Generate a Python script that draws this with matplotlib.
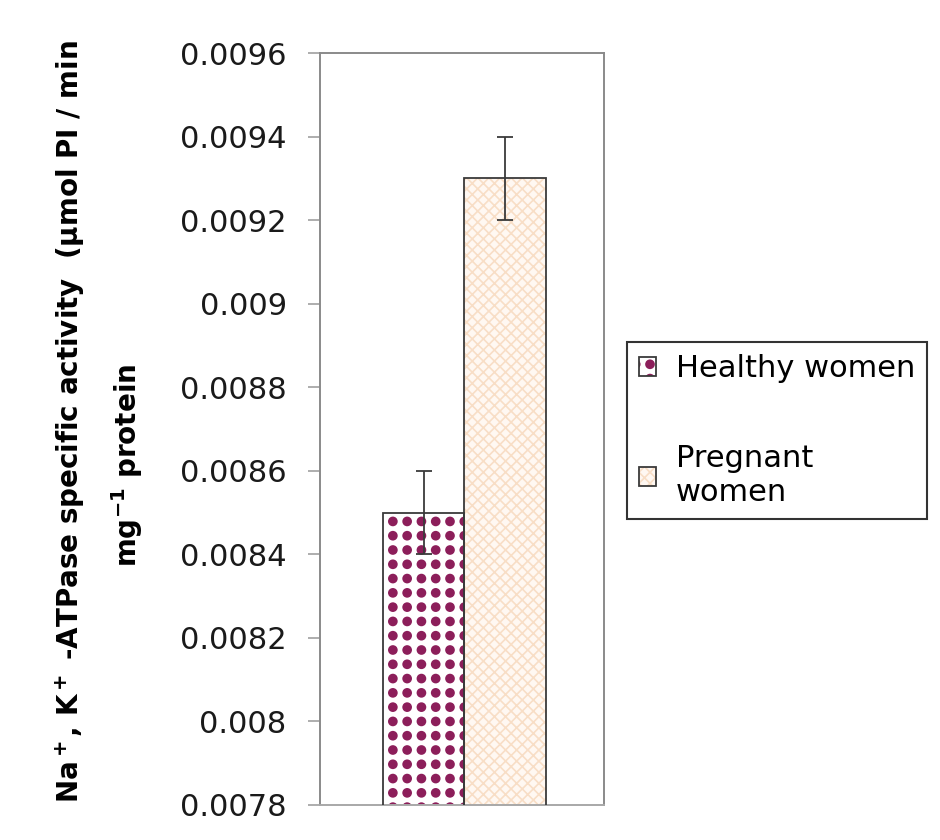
import numpy as np
import matplotlib
matplotlib.use("Agg")
import matplotlib.pyplot as plt
from matplotlib import hatch as mhatch
from matplotlib.path import Path

# data
groups = ["Healthy women", "Pregnant\nwomen"]
values = [0.0085, 0.0093]
errors = [0.0001, 0.0001]
yticks = [0.0078, 0.0080, 0.0082, 0.0084, 0.0086, 0.0088, 0.0090, 0.0092, 0.0094, 0.0096]
ytick_labels = ["0.0078", "0.008", "0.0082", "0.0084", "0.0086", "0.0088",
                "0.009", "0.0092", "0.0094", "0.0096"]


class GridDots(mhatch.HatchPatternBase):
    # square grid of filled dots (Excel-like pattern), used for '*'
    def __init__(self, hatch, density):
        self.n = hatch.count('*') * 7
        circ = Path.unit_circle()
        self.cv = circ.vertices
        self.cc = circ.codes
        self.num_vertices = self.n * self.n * len(self.cv)

    def set_vertices_and_codes(self, vertices, codes):
        k = len(self.cv)
        r = 0.04
        cur = 0
        for i in range(self.n):
            for j in range(self.n):
                c = np.array([(i + 0.5) / self.n, (j + 0.5) / self.n])
                vertices[cur:cur + k] = self.cv * r + c
                codes[cur:cur + k] = self.cc
                cur += k


mhatch._hatch_types = [t for t in mhatch._hatch_types if t is not mhatch.Stars] + [GridDots]

plt.rcParams['font.family'] = ['DejaVu Sans']
plt.rcParams['mathtext.fontset'] = 'dejavusans'
plt.rcParams['mathtext.default'] = 'bf'
plt.rcParams['hatch.linewidth'] = 1.2

purple = '#8C1E5A'
peach = '#F8DEC6'
dark = '#3a3a3a'
gray = '#8a8a8a'

fig = plt.figure(figsize=(9.4, 8.4), dpi=100)
ax = fig.add_axes([0.3404, 0.04167, 0.3022, 0.8952])

x = np.arange(len(groups))
faces = ['white', '#FFF8F2']
hatches = ['*', 'xxx']
hcols = [purple, peach]

fills = ax.bar(x, values, width=1.0, color=faces, edgecolor=hcols, linewidth=0, zorder=2)
for b, h in zip(fills, hatches):
    b.set_hatch(h)
outlines = ax.bar(x, values, width=1.0, fill=False, edgecolor=dark, linewidth=1.3, zorder=3)
ax.errorbar(x, values, yerr=errors, fmt='none', ecolor=dark, elinewidth=1.3,
            capsize=5.5, capthick=1.3, zorder=4)

ax.set_xlim(-1.28, 2.22)
ax.set_ylim(yticks[0], yticks[-1])
ax.set_yticks(yticks)
ax.set_yticklabels(ytick_labels)
ax.set_xticks([])
ax.tick_params(axis='y', direction='out', length=9, width=1.2, color='#a0a0a0',
               labelsize=22, pad=15, labelcolor='#1a1a1a')
for s in ['left', 'top', 'right']:
    ax.spines[s].set_color(gray)
    ax.spines[s].set_linewidth(1.4)
ax.spines['bottom'].set_color('#a8a8a8')
ax.spines['bottom'].set_linewidth(1.4)

fig.text(70 / 940, 1 - 422 / 840,
         'Na$^+$, K$^+$ -ATPase specific activity  (μmol PI / min',
         rotation=90, ha='center', va='center', fontsize=20, fontweight='bold')
fig.text(127 / 940, 1 - 465 / 840, 'mg$^{-1}$ protein',
         rotation=90, ha='center', va='center', fontsize=20, fontweight='bold')

handles = [(fills[i], outlines[i]) for i in range(len(groups))]
leg = fig.legend(handles, groups, loc='upper left',
                 bbox_to_anchor=(627 / 940, 1 - 342 / 840), bbox_transform=fig.transFigure,
                 borderaxespad=0, frameon=True, fancybox=False, edgecolor='#333333',
                 framealpha=1, fontsize=22, borderpad=0.4, labelspacing=2.0,
                 handlelength=0.55, handleheight=0.55, handletextpad=0.65)
leg.get_frame().set_linewidth(1.5)

fig.savefig('out.png', dpi=100)
